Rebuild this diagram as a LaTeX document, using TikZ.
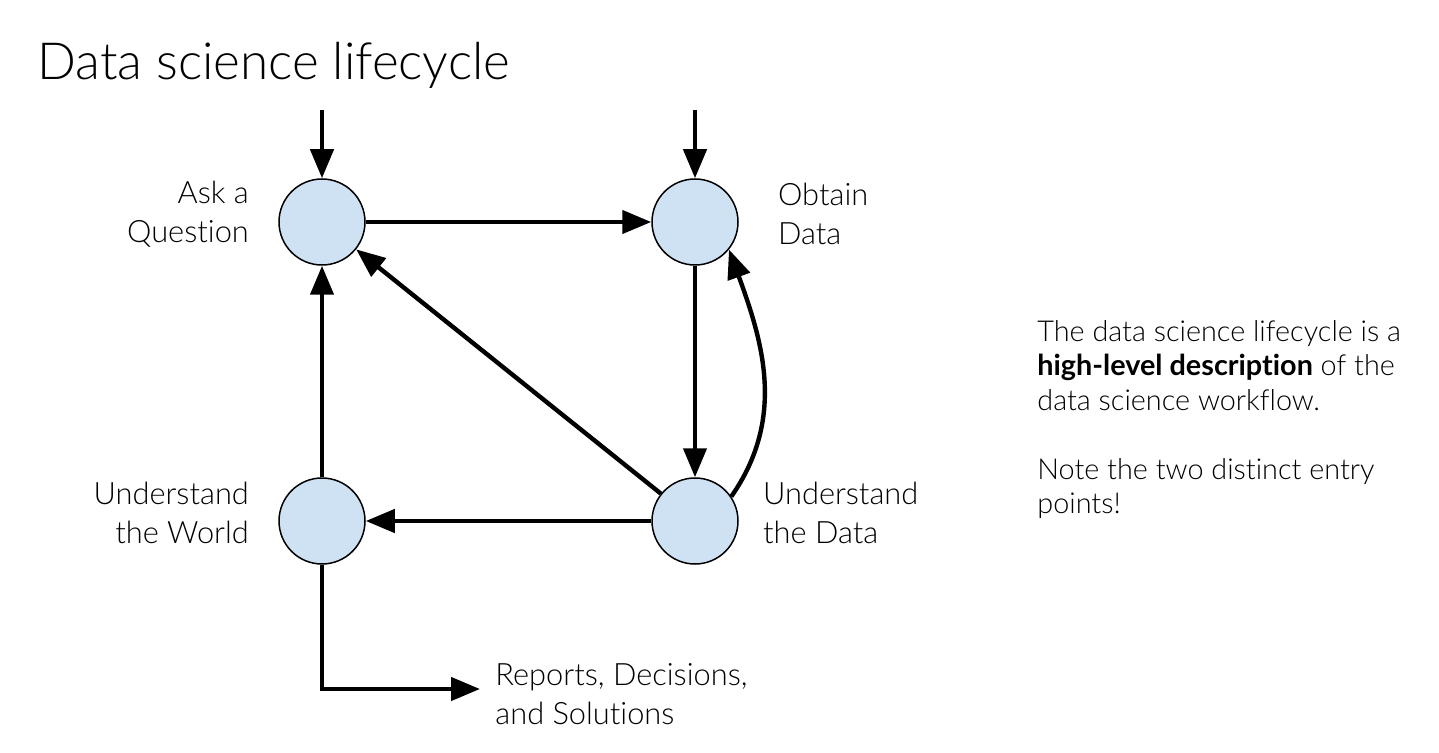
\documentclass[tikz,border=0pt]{standalone}
\usepackage{fontspec}
\setmainfont{Lato Light}[BoldFont={Lato Bold}, Ligatures=NoCommon]
\usepackage{xcolor}
\usetikzlibrary{arrows.meta, positioning}
\definecolor{stageblue}{RGB}{207,226,243}

\begin{document}
\begin{tikzpicture}[x=0.5pt, y=-0.5pt,
	stage/.style={circle, draw, line width=0.75pt, fill=stageblue, minimum size=43pt, inner sep=0pt},
	flow/.style={line width=2.2pt, -{Triangle[length=14.5pt, width=11.5pt]}},
	lbl/.style={inner sep=0pt, font=\fontsize{15.4}{19.5}\selectfont}]
		\def\xl{322};
		\def\xr{695};
		\def\yt{222};
		\def\yb{521};
		
		\useasboundingbox (0,0) rectangle (1439,753);
		
		\node [anchor=base west, inner sep=0pt, font=\fontsize{25.6}{30}\selectfont] (title) at (37,80) {Data science lifecycle};
		
		\node [stage] (ask) at (\xl,\yt) {};
		\node [stage] (obtain) at (\xr,\yt) {};
		\node [stage] (world) at (\xl,\yb) {};
		\node [stage] (data) at (\xr,\yb) {};
		
		\node [lbl, align=right, left=14.5pt of ask, yshift=4pt] (asklbl) {Ask a\\Question};
		\node [lbl, align=left, right=19.5pt of obtain, yshift=4pt] (obtainlbl) {Obtain\\Data};
		\node [lbl, align=right, left=14.5pt of world, yshift=4pt] (worldlbl) {Understand\\the World};
		\node [lbl, align=left, right=12pt of data, yshift=4pt] (datalbl) {Understand\\the Data};
		\node [lbl, align=left, anchor=west, inner xsep=7.5pt] (rep) at (480,694) {Reports, Decisions,\\and Solutions};
		
		\node [anchor=north west, inner sep=0pt, align=left, font=\fontsize{14.4}{17.25}\selectfont] (note) at (1037,320)
			{The data science lifecycle is a\\\textbf{high-level description} of the\\data science workflow.\\[17.25pt]Note the two distinct entry\\points!};
		
		\coordinate (askin) at (\xl,110);
		\coordinate (obtainin) at (\xr,110);
		
		\draw [flow] (askin) -- (ask);
		\draw [flow] (obtainin) -- (obtain);
		\draw [flow] (ask) -- (obtain);
		\draw [flow] (obtain) -- (data);
		\draw [flow] (data) -- (ask);
		\draw [flow] (data) -- (world);
		\draw [flow] (world) -- (ask);
		\draw [flow] (data.34) to [out=55, in=-70] (obtain.-39);
		\draw [flow] (world) |- ([yshift=2.5pt]rep.west);
	\end{tikzpicture}
\end{document}
